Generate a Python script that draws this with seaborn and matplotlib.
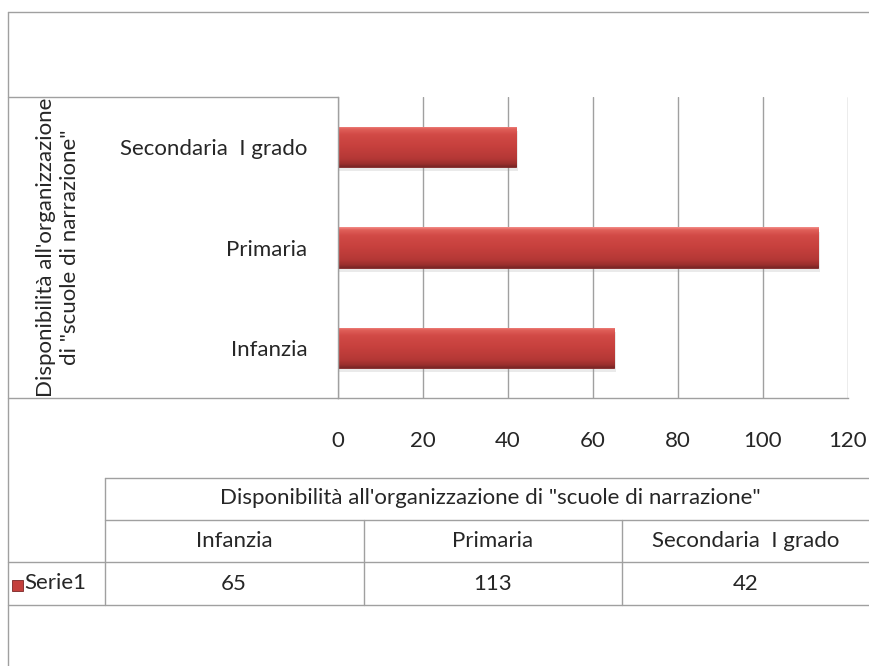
import numpy as np
import pandas as pd
import matplotlib
matplotlib.use('Agg')
from matplotlib import pyplot as plt
from matplotlib.colors import LinearSegmentedColormap
from matplotlib.lines import Line2D
import matplotlib.patheffects as pe
import seaborn as sns

# data
categories = ['Infanzia', 'Primaria', 'Secondaria  I grado']
values = [65, 113, 42]
series_name = 'Serie1'
table_title = 'Disponibilità all\'organizzazione di "scuole di narrazione"'
y_title = 'Disponibilità all\'organizzazione\ndi "scuole di narrazione"'
x_ticks = [0, 20, 40, 60, 80, 100, 120]

df = pd.DataFrame({'categoria': categories, 'valore': values})

sns.set_theme(style='white')
plt.rcParams['font.family'] = ['Lato', 'DejaVu Sans']
txt = '#262626'
line_c = '#a0a0a0'
fs = 16
W, H = 870, 666


def fx(px):
    return px / W


def fy(py):
    return 1 - py / H


fig = plt.figure(figsize=(8.7, 6.66), dpi=100)
ax = fig.add_axes([fx(338), fy(398), (848 - 338) / W, (398 - 97) / H])

sns.barplot(data=df, x='valore', y='categoria', order=categories[::-1],
            orient='h', width=0.4, color='#c4403d', saturation=1,
            edgecolor='#7a2626', linewidth=0.6, ax=ax)

# gradient fill on bars, like the office 3d bevel
cmap = LinearSegmentedColormap.from_list('bev', [
    (0.0, '#f28a86'), (0.06, '#e0605a'), (0.2, '#d24a46'), (0.5, '#c6403d'),
    (0.8, '#b43836'), (0.93, '#9a2f2d'), (1.0, '#7a2626')])
grad = np.linspace(0, 1, 64).reshape(-1, 1)
for p in ax.patches:
    x0, y0, w, h = p.get_x(), p.get_y(), p.get_width(), p.get_height()
    p.set_path_effects([pe.SimplePatchShadow(offset=(1, -3), shadow_rgbFace='#999999', alpha=0.2),
                        pe.Normal()])
    im = ax.imshow(grad, extent=[x0, x0 + w, y0 + h, y0], aspect='auto',
                   cmap=cmap, origin='upper', zorder=p.get_zorder() + 0.1)
    im.set_clip_path(p)

ax.set_xlim(0, 120)
ax.set_ylim(2.5, -0.5)
ax.set_xticks(x_ticks)
ax.set_xticklabels([str(t) for t in x_ticks])
ax.xaxis.grid(True, color=line_c, linewidth=1)
ax.set_axisbelow(True)
ax.tick_params(axis='x', length=0, pad=24, labelsize=fs, labelcolor=txt)
ax.tick_params(axis='y', length=0, pad=22, labelsize=fs, labelcolor=txt)
for s in ['top', 'right']:
    ax.spines[s].set_visible(False)
for s in ['left', 'bottom']:
    ax.spines[s].set_color(line_c)
    ax.spines[s].set_linewidth(1)
ax.set_xlabel('')
ax.set_ylabel(y_title, fontsize=fs, color=txt, linespacing=1.25)
ax.yaxis.set_label_coords((80 - 338) / 510, 0.5)


def hline(y, x0, x1):
    fig.add_artist(Line2D([fx(x0), fx(x1)], [fy(y), fy(y)], color=line_c, lw=1))


def vline(x, y0, y1):
    fig.add_artist(Line2D([fx(x), fx(x)], [fy(y0), fy(y1)], color=line_c, lw=1))


# outer frame and category box
hline(12, 8, 870)
vline(8, 12, 666)
hline(97, 8, 338)
hline(398, 8, 338)

# data table
hline(478, 105, 870)
hline(520, 105, 870)
hline(562, 8, 870)
hline(605, 8, 870)
vline(105, 478, 605)
vline(364, 520, 605)
vline(622, 520, 605)

fig.text(fx(490), fy(498), table_title, ha='center', va='center', fontsize=fs, color=txt)
col_centers = [234, 493, 746]
for cx, c, v in zip(col_centers, categories, values):
    fig.text(fx(cx), fy(541), c, ha='center', va='center', fontsize=fs, color=txt)
    fig.text(fx(cx), fy(584), str(v), ha='center', va='center', fontsize=fs, color=txt)
fig.add_artist(plt.Rectangle((fx(12), fy(591)), 11 / W, 11 / H, transform=fig.transFigure,
                             facecolor='#c4403d', edgecolor='#7a2626', lw=0.6))
fig.text(fx(24), fy(583), series_name, ha='left', va='center', fontsize=fs, color=txt)

fig.savefig('out.png', dpi=100)
